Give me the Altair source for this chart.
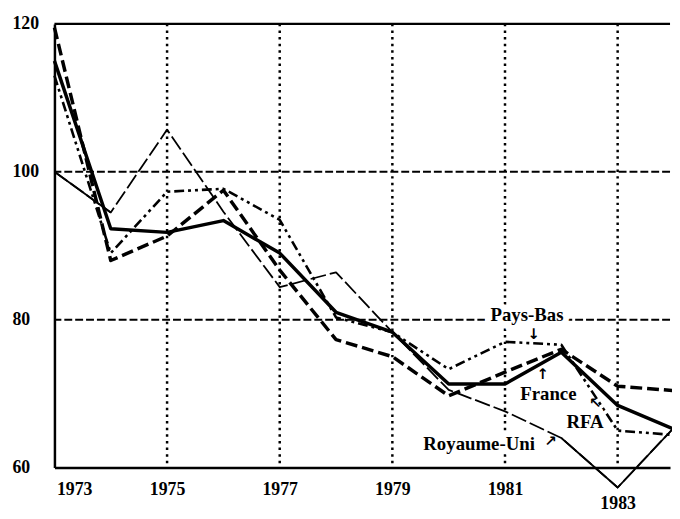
import altair as alt
import pandas as pd

# ---- data ----
years = [1973, 1974, 1975, 1976, 1977, 1978, 1979, 1980, 1981, 1982, 1983, 1984]
france = [115.0, 92.3, 91.8, 93.4, 89.0, 81.0, 78.3, 71.3, 71.3, 75.6, 68.4, 65.2]
royaume_uni = [100.0, 94.5, 105.7, 94.6, 84.4, 86.4, 78.3, 70.5, 67.6, 64.0, 57.3, 65.4]
rfa = [113.0, 89.0, 97.3, 97.7, 93.5, 80.3, 78.3, 73.3, 77.0, 76.6, 65.0, 64.4]
pays_bas = [119.5, 88.0, 91.3, 97.5, 86.7, 77.3, 75.0, 69.7, 72.9, 76.0, 71.0, 70.4]

y_ticks = [60, 80, 100, 120]
x_ticks = [1973, 1975, 1977, 1979, 1981, 1983]
dotted_years = [1975, 1977, 1979, 1981, 1983]
dashed_levels = [80, 100]
frame_top = [120]

label_text = ["Pays-Bas", "France", "RFA", "Royaume-Uni"]
label_year = [1981.39, 1981.77, 1982.42, 1980.54]
label_value = [80.6, 70.0, 66.1, 63.2]
arrow_char = ["↓", "↑", "↖", "↗"]
arrow_year = [1981.51, 1981.67, 1982.6, 1981.81]
arrow_value = [78.0, 72.7, 68.7, 63.6]

# ---- tables ----
rows = []
for name, vals in [("France", france), ("Royaume-Uni", royaume_uni),
                   ("RFA", rfa), ("Pays-Bas", pays_bas)]:
    for yr, v in zip(years, vals):
        rows.append({"year": yr, "value": v, "pays": name})
df = pd.DataFrame(rows)

ru_solid = pd.DataFrame([
    {"year": yr, "value": v, "seg": 0 if yr <= 1974 else 1}
    for yr, v in zip(years, royaume_uni) if yr <= 1974 or yr >= 1982
])

labels = pd.DataFrame({"year": label_year, "value": label_value, "text": label_text})
arrows = pd.DataFrame({"year": arrow_year, "value": arrow_value, "text": arrow_char})

x_scale = alt.Scale(domain=[1973, 1983.93], nice=False, zero=False)
y_scale = alt.Scale(domain=[60, 120], nice=False, zero=False)
FONT = "Liberation Serif"

x_axis = alt.Axis(
    values=x_ticks, format="d", title=None, grid=False, ticks=False,
    domainColor="black", domainWidth=2.5,
    labelFont=FONT, labelFontSize=18, labelFontWeight="bold", labelColor="black",
    labelBaseline="middle", labelAlign="center",
    labelOffset={"condition": {"test": "datum.value == 1973", "value": 20}, "value": 0},
    labelPadding={"condition": {"test": "datum.value == 1983", "value": 36}, "value": 22},
    labelOverlap=False, labelFlush=False,
)
y_axis = alt.Axis(
    values=y_ticks, title=None, grid=False, ticks=False,
    domainColor="black", domainWidth=2.5,
    labelFont=FONT, labelFontSize=18, labelFontWeight="bold", labelColor="black",
    labelAlign="left", labelBaseline="middle", labelPadding=43,
    labelOverlap=False, labelFlush=False,
)

X = alt.X("year:Q", scale=x_scale, axis=x_axis)
Y = alt.Y("value:Q", scale=y_scale, axis=y_axis)

vgrid = alt.Chart(pd.DataFrame({"year": dotted_years})).mark_rule(
    color="black", strokeWidth=2.5, strokeDash=[2.5, 4.2]
).encode(x=X)

hgrid = alt.Chart(pd.DataFrame({"value": dashed_levels})).mark_rule(
    color="black", strokeWidth=2, strokeDash=[8, 3]
).encode(y=Y)

top = alt.Chart(pd.DataFrame({"value": frame_top})).mark_rule(
    color="black", strokeWidth=2.2
).encode(y=Y)


def series(name, **style):
    return alt.Chart(df).transform_filter(alt.datum.pays == name).mark_line(
        color="black", strokeJoin="round", **style
    ).encode(x=X, y=Y, order="year:Q")


ru_line = series("Royaume-Uni", strokeWidth=1.8, strokeDash=[16, 4])
ru_solid_line = alt.Chart(ru_solid).mark_line(color="black", strokeWidth=1.8).encode(
    x=X, y=Y, detail="seg:N", order="year:Q",
)
rfa_line = series("RFA", strokeWidth=2.6, strokeDash=[10, 4, 3, 4, 3, 4])
pb_line = series("Pays-Bas", strokeWidth=3.5, strokeDash=[12, 5])
fr_line = series("France", strokeWidth=3.5)

halo = alt.Chart(labels).mark_text(
    font=FONT, fontSize=19, fontWeight="bold", fill="white", stroke="white",
    strokeWidth=12, align="center", baseline="middle"
).encode(x=X, y=Y, text="text:N")
label_layer = alt.Chart(labels).mark_text(
    font=FONT, fontSize=19, fontWeight="bold", color="black",
    align="center", baseline="middle"
).encode(x=X, y=Y, text="text:N")
arrow_layer = alt.Chart(arrows).mark_text(
    font="DejaVu Sans", fontSize=15, fontWeight="bold", color="black",
    align="center", baseline="middle"
).encode(x=X, y=Y, text="text:N")

chart = alt.layer(
    vgrid, hgrid, top,
    ru_line, ru_solid_line, rfa_line, pb_line, fr_line,
    halo, label_layer, arrow_layer,
).properties(
    width=623, height=449,
    autosize=alt.AutoSizeParams(type="none"),
    padding={"left": 47, "top": 13, "right": 2, "bottom": 48},
    background="white",
).configure_view(stroke=None)

chart.save("out.html", embed_options={"renderer": "svg", "actions": False})
